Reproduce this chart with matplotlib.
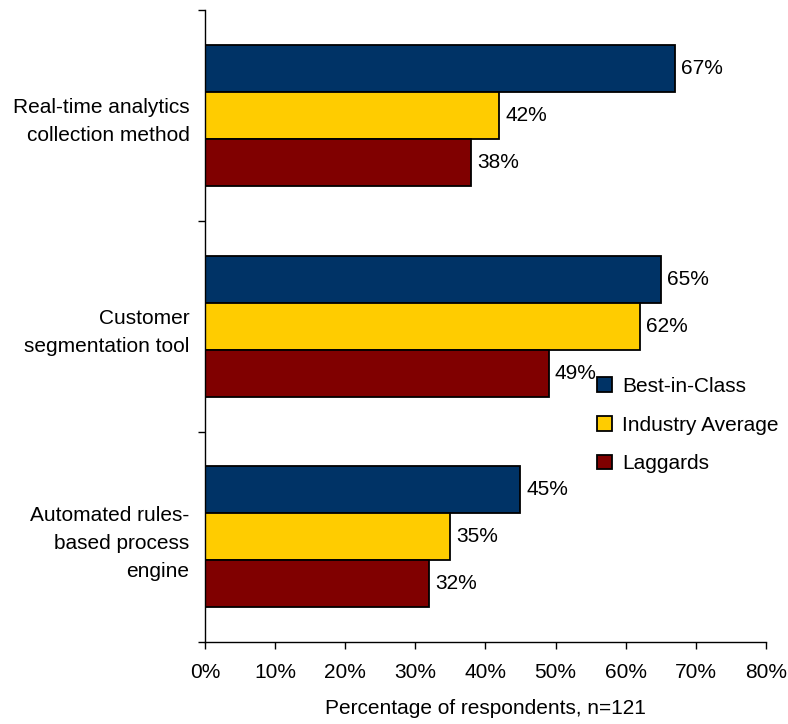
import matplotlib.pyplot as plt
import numpy as np
from matplotlib import ticker

plt.rcParams['font.family'] = ['Liberation Sans', 'DejaVu Sans']

categories = ['Real-time analytics\ncollection method',
              'Customer\nsegmentation tool',
              'Automated rules-\nbased process\nengine']
series_names = ['Best-in-Class', 'Industry Average', 'Laggards']
best_in_class = [67, 65, 45]
industry_avg = [42, 62, 35]
laggards = [38, 49, 32]
colors = ['#003366', '#FFCC00', '#800000']

series = [best_in_class, industry_avg, laggards]
fs = 15

fig = plt.figure(figsize=(7.88, 7.24), dpi=100)
ax = fig.add_axes([0.260, 0.113, 0.712, 0.873])

y = np.arange(len(categories))
bar_h = 0.223
for i, (vals, name, col) in enumerate(zip(series, series_names, colors)):
    pos = y + (i - 1) * bar_h
    ax.barh(pos, vals, height=bar_h, color=col, edgecolor='black',
            linewidth=1.3, label=name)
    for p, v in zip(pos, vals):
        ax.text(v + 0.9, p, f'{v}%', va='center', ha='left', fontsize=fs)

ax.set_xlim(0, 80)
ax.set_ylim(len(categories) - 0.5, -0.5)
ax.xaxis.set_major_locator(ticker.MultipleLocator(10))
ax.xaxis.set_major_formatter(ticker.FuncFormatter(lambda v, _: f'{v:.0f}%'))

# boundaries get the tick marks, centers carry the labels
ax.set_yticks(np.arange(len(categories) + 1) - 0.5)
ax.set_yticklabels([])
ax.set_yticks(y, minor=True)
ax.set_yticklabels(categories, minor=True, fontsize=fs,
                   multialignment='right', linespacing=1.6)
ax.tick_params(axis='y', which='minor', length=0, pad=11)
ax.tick_params(axis='y', which='major', length=5, width=1, direction='out')
ax.tick_params(axis='x', length=5, width=1, direction='out', labelsize=fs, pad=10)

for s in ['top', 'right']:
    ax.spines[s].set_visible(False)
for s in ['left', 'bottom']:
    ax.spines[s].set_linewidth(1)

ax.set_xlabel('Percentage of respondents, n=121', fontsize=fs, labelpad=12)

ax.legend(loc='upper left', bbox_to_anchor=(0.684, 0.433), frameon=False,
          fontsize=fs, handlelength=0.7, handleheight=0.7,
          handletextpad=0.5, labelspacing=0.95, borderaxespad=0)

fig.savefig('out.png', dpi=100)
